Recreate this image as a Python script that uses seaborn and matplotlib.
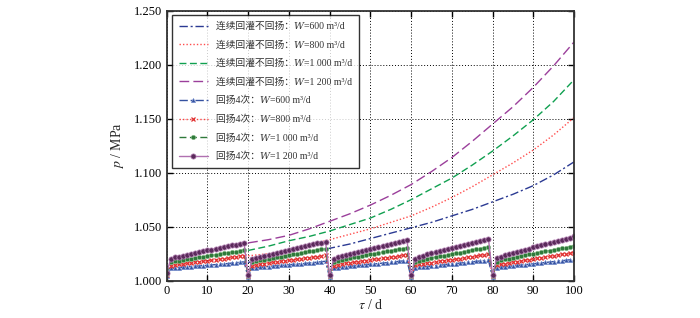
import matplotlib
matplotlib.use("Agg")
import matplotlib.pyplot as plt
import seaborn as sns

sns.set_theme(style="white")
plt.rcParams['font.family'] = ['Liberation Serif', 'Noto Sans CJK SC', 'DejaVu Serif', 'DejaVu Sans']
plt.rcParams['mathtext.fontset'] = 'stix'

# ---------------- data ----------------
days = list(range(0, 101))

# continuous recharge without pumping back (read every 5 days from day 20)
cont_days = [20, 25, 30, 35, 40, 45, 50, 55, 60, 65, 70, 75, 80, 85, 90, 95, 100]
cont_600 = [1.017, 1.019, 1.022, 1.026, 1.030, 1.034, 1.039, 1.044, 1.049, 1.054, 1.060, 1.066, 1.073, 1.080, 1.088, 1.098, 1.110]
cont_800 = [1.023, 1.025, 1.028, 1.033, 1.038, 1.043, 1.048, 1.054, 1.060, 1.068, 1.077, 1.087, 1.098, 1.109, 1.121, 1.135, 1.151]
cont_1000 = [1.028, 1.032, 1.037, 1.041, 1.046, 1.052, 1.058, 1.066, 1.075, 1.085, 1.095, 1.107, 1.120, 1.134, 1.149, 1.166, 1.186]
cont_1200 = [1.035, 1.038, 1.042, 1.048, 1.055, 1.062, 1.070, 1.079, 1.089, 1.101, 1.114, 1.129, 1.145, 1.161, 1.179, 1.199, 1.221]

# pumped back 4 times (daily values, days 0..100)
back_600 = [
    1.0040, 1.0113, 1.0118, 1.0122, 1.0125, 1.0128, 1.0131, 1.0134, 1.0137, 1.0140, 1.0143, 1.0146, 1.0149, 1.0152, 1.0155, 1.0159, 1.0163, 1.0167, 1.0171, 1.0175,
    1.0030, 1.0114, 1.0119, 1.0123, 1.0127, 1.0131, 1.0135, 1.0139, 1.0142, 1.0145, 1.0148, 1.0151, 1.0154, 1.0157, 1.0160, 1.0164, 1.0168, 1.0172, 1.0176, 1.0180,
    1.0030, 1.0115, 1.0121, 1.0125, 1.0129, 1.0133, 1.0137, 1.0141, 1.0145, 1.0149, 1.0152, 1.0155, 1.0159, 1.0163, 1.0167, 1.0171, 1.0175, 1.0179, 1.0183, 1.0187,
    1.0030, 1.0117, 1.0123, 1.0127, 1.0131, 1.0135, 1.0139, 1.0143, 1.0147, 1.0151, 1.0155, 1.0159, 1.0163, 1.0167, 1.0171, 1.0175, 1.0179, 1.0183, 1.0187, 1.0191,
    1.0030, 1.0119, 1.0125, 1.0129, 1.0133, 1.0137, 1.0141, 1.0145, 1.0149, 1.0153, 1.0157, 1.0161, 1.0165, 1.0169, 1.0173, 1.0177, 1.0181, 1.0185, 1.0189, 1.0194, 1.0199,
]
back_800 = [
    1.0050, 1.0137, 1.0144, 1.0150, 1.0155, 1.0160, 1.0165, 1.0170, 1.0175, 1.0180, 1.0185, 1.0190, 1.0195, 1.0200, 1.0205, 1.0210, 1.0215, 1.0220, 1.0226, 1.0233,
    1.0040, 1.0138, 1.0146, 1.0152, 1.0158, 1.0164, 1.0169, 1.0174, 1.0179, 1.0184, 1.0189, 1.0194, 1.0199, 1.0204, 1.0209, 1.0214, 1.0219, 1.0224, 1.0230, 1.0237,
    1.0040, 1.0140, 1.0148, 1.0154, 1.0160, 1.0166, 1.0172, 1.0177, 1.0182, 1.0187, 1.0192, 1.0197, 1.0202, 1.0207, 1.0212, 1.0218, 1.0224, 1.0230, 1.0236, 1.0242,
    1.0040, 1.0142, 1.0150, 1.0156, 1.0162, 1.0168, 1.0174, 1.0180, 1.0185, 1.0190, 1.0195, 1.0200, 1.0205, 1.0211, 1.0217, 1.0223, 1.0229, 1.0235, 1.0241, 1.0247,
    1.0040, 1.0145, 1.0153, 1.0159, 1.0165, 1.0171, 1.0177, 1.0183, 1.0189, 1.0195, 1.0201, 1.0207, 1.0213, 1.0219, 1.0225, 1.0231, 1.0237, 1.0243, 1.0249, 1.0254, 1.0259,
]
back_1000 = [
    1.0060, 1.0170, 1.0179, 1.0186, 1.0192, 1.0198, 1.0204, 1.0210, 1.0216, 1.0222, 1.0228, 1.0234, 1.0240, 1.0246, 1.0252, 1.0258, 1.0264, 1.0270, 1.0277, 1.0285,
    1.0045, 1.0170, 1.0180, 1.0188, 1.0195, 1.0202, 1.0209, 1.0216, 1.0223, 1.0230, 1.0237, 1.0244, 1.0251, 1.0258, 1.0265, 1.0271, 1.0277, 1.0283, 1.0289, 1.0295,
    1.0045, 1.0172, 1.0183, 1.0191, 1.0199, 1.0207, 1.0215, 1.0222, 1.0229, 1.0236, 1.0243, 1.0250, 1.0257, 1.0264, 1.0271, 1.0278, 1.0285, 1.0291, 1.0297, 1.0304,
    1.0045, 1.0175, 1.0186, 1.0195, 1.0203, 1.0211, 1.0219, 1.0226, 1.0233, 1.0240, 1.0247, 1.0254, 1.0261, 1.0268, 1.0275, 1.0282, 1.0289, 1.0296, 1.0303, 1.0311,
    1.0045, 1.0177, 1.0188, 1.0197, 1.0205, 1.0213, 1.0221, 1.0229, 1.0237, 1.0244, 1.0251, 1.0258, 1.0265, 1.0272, 1.0279, 1.0286, 1.0293, 1.0300, 1.0307, 1.0315, 1.0323,
]
back_1200 = [
    1.0070, 1.0203, 1.0215, 1.0224, 1.0232, 1.0240, 1.0248, 1.0256, 1.0264, 1.0272, 1.0280, 1.0288, 1.0296, 1.0304, 1.0312, 1.0319, 1.0326, 1.0333, 1.0341, 1.0348,
    1.0050, 1.0201, 1.0214, 1.0224, 1.0233, 1.0242, 1.0251, 1.0260, 1.0269, 1.0278, 1.0287, 1.0296, 1.0305, 1.0313, 1.0321, 1.0329, 1.0337, 1.0345, 1.0353, 1.0361,
    1.0050, 1.0203, 1.0217, 1.0228, 1.0238, 1.0248, 1.0258, 1.0268, 1.0277, 1.0286, 1.0295, 1.0304, 1.0313, 1.0322, 1.0331, 1.0340, 1.0349, 1.0358, 1.0367, 1.0375,
    1.0050, 1.0205, 1.0220, 1.0232, 1.0243, 1.0254, 1.0264, 1.0274, 1.0284, 1.0294, 1.0304, 1.0314, 1.0324, 1.0333, 1.0342, 1.0351, 1.0360, 1.0369, 1.0378, 1.0387,
    1.0050, 1.0207, 1.0223, 1.0235, 1.0246, 1.0257, 1.0268, 1.0278, 1.0288, 1.0298, 1.0308, 1.0318, 1.0328, 1.0338, 1.0348, 1.0358, 1.0368, 1.0378, 1.0388, 1.0399, 1.0410,
]

flows = ["600", "800", "1 000", "1 200"]
x_ticks = [0, 10, 20, 30, 40, 50, 60, 70, 80, 90, 100]
y_ticks = [1.000, 1.050, 1.100, 1.150, 1.200, 1.250]

# ---------------- figure ----------------
fig = plt.figure(figsize=(7.0, 3.18), dpi=100)
ax = fig.add_axes([0.2381, 0.1173, 0.5819, 0.849])

cont_styles = [
    dict(color="#2b3a93", linestyle=(0, (6, 2, 1.5, 2))),
    dict(color="#ff4d4d", linestyle=(0, (1, 1.5))),
    dict(color="#10a050", linestyle=(0, (5, 2.5))),
    dict(color="#9b3f9b", linestyle=(0, (7, 3))),
]
back_styles = [
    dict(color="#3451a0", linestyle=(0, (6, 2, 1.5, 2)), marker="^", markersize=3.2,
         markerfacecolor="#3451a0", markeredgecolor="#8aa0d8", markeredgewidth=0.4),
    dict(color="#ff4040", linestyle=(0, (1, 1.5)), marker="x", markersize=3.5,
         markeredgecolor="#e03030", markeredgewidth=0.9),
    dict(color="#2e7a3a", linestyle=(0, (5, 2.5)), marker="o", markersize=3.2,
         markerfacecolor="#2e7a3a", markeredgecolor="#90c090", markeredgewidth=0.4),
    dict(color="#b070b0", linestyle="-", marker="o", markersize=3.8,
         markerfacecolor="#5b2a5b", markeredgecolor="#c090c0", markeredgewidth=0.5),
]

conts = [cont_600, cont_800, cont_1000, cont_1200]
backs = [back_600, back_800, back_1000, back_1200]

W = "\U0001D44A"  # mathematical italic W
for i, (vals, st) in enumerate(zip(conts, cont_styles)):
    sns.lineplot(x=cont_days, y=vals, ax=ax, linewidth=1.0,
                 label="连续回灌不回扬：" + W + "=" + flows[i] + " m³/d", **st)

for i, (vals, st) in enumerate(zip(backs, back_styles)):
    sns.lineplot(x=days, y=vals, ax=ax, linewidth=1.0,
                 label="回扬4次：" + W + "=" + flows[i] + " m³/d", **st)

ax.set_xlim(0, 100)
ax.set_ylim(1.0, 1.25)
ax.set_xticks(x_ticks)
ax.set_yticks(y_ticks)
ax.set_xticklabels([str(t) for t in x_ticks], fontsize=9)
ax.set_yticklabels(["%.3f" % t for t in y_ticks], fontsize=9)
ax.grid(True, color="black", linestyle=(0, (1, 2)), linewidth=0.7)
ax.tick_params(direction="in", length=4, width=1, top=True, right=True,
               bottom=True, left=True, colors="black", pad=3)
for s in ax.spines.values():
    s.set_color("#333333")
    s.set_linewidth(1.3)

ax.set_xlabel("$\\tau$ / d", fontsize=10, labelpad=1)
ax.set_ylabel("$p$ / MPa", fontsize=10, labelpad=6)

leg = ax.legend(loc="upper left", fontsize=7.0, frameon=True, fancybox=False,
                edgecolor="black", handlelength=3.0, borderpad=0.7,
                labelspacing=0.95, borderaxespad=0.0,
                bbox_to_anchor=(0.013, 0.985))
leg.get_frame().set_linewidth(1.0)
for t in leg.get_texts():
    t.set_color("#333333")

fig.savefig("out.png", dpi=100, facecolor="white")
